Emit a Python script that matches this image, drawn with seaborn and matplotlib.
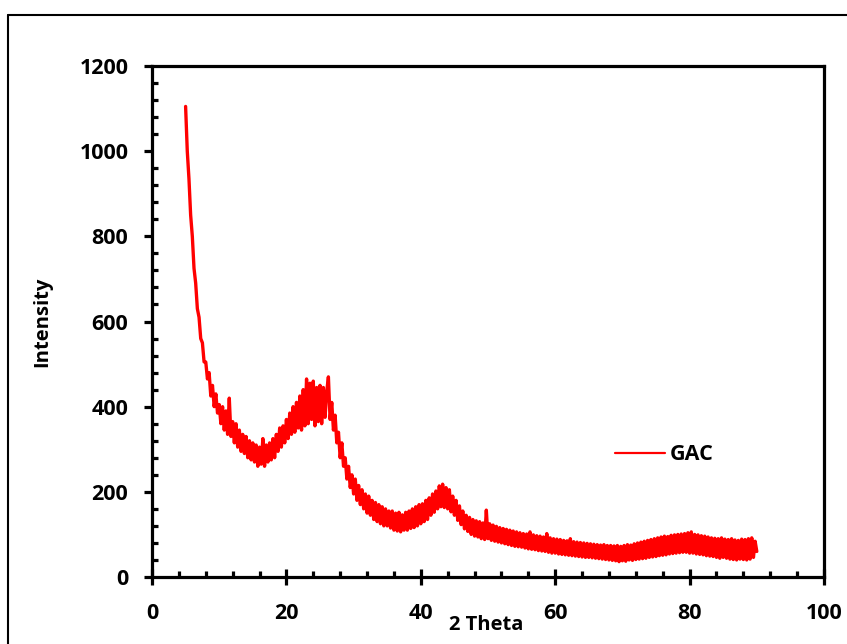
import numpy as np
import pandas as pd
import matplotlib
matplotlib.use("Agg")
import matplotlib.pyplot as plt
from matplotlib.lines import Line2D
from matplotlib.ticker import MultipleLocator
import seaborn as sns

# ---- data ----
two_theta_start = 5.0
two_theta_step = 0.25
intensity = [
    # 5.00 - 9.75
    1105, 1000, 935, 850, 800, 725, 690, 630, 610, 560, 550, 505, 505, 465, 480, 425, 450, 400, 430, 385,
    # 10.00 - 14.75
    405, 360, 400, 345, 390, 335, 420, 330, 365, 315, 360, 305, 345, 295, 335, 290, 330, 280, 320, 275,
    # 15.00 - 19.75
    315, 270, 310, 260, 305, 265, 325, 260, 310, 270, 315, 275, 325, 280, 335, 295, 350, 305, 355, 315,
    # 20.00 - 24.75
    370, 325, 385, 335, 400, 340, 410, 350, 425, 345, 440, 355, 465, 360, 455, 370, 460, 355, 445, 365,
    # 25.00 - 29.75
    450, 360, 445, 375, 435, 470, 370, 410, 345, 380, 315, 340, 280, 315, 260, 280, 230, 260, 210, 240,
    # 30.00 - 34.75
    195, 230, 180, 215, 170, 205, 160, 195, 150, 190, 145, 180, 135, 175, 130, 170, 125, 165, 120, 160,
    # 35.00 - 39.75
    120, 155, 115, 155, 110, 150, 108, 152, 106, 146, 110, 152, 110, 155, 114, 160, 116, 165, 120, 170,
    # 40.00 - 44.75
    125, 172, 130, 180, 135, 186, 145, 195, 152, 202, 160, 214, 165, 218, 163, 210, 160, 205, 153, 190,
    # 45.00 - 49.75
    145, 180, 133, 167, 123, 155, 113, 145, 107, 140, 100, 135, 96, 132, 94, 130, 90, 127, 88, 157,
    # 50.00 - 54.75
    90, 125, 86, 122, 84, 119, 82, 116, 80, 114, 78, 112, 76, 110, 74, 108, 72, 106, 71, 104,
    # 55.00 - 59.75
    70, 102, 68, 101, 66, 106, 65, 99, 64, 97, 62, 96, 61, 94, 60, 102, 58, 92, 56, 90,
    # 60.00 - 64.75
    56, 89, 54, 88, 53, 86, 52, 85, 51, 90, 50, 83, 49, 82, 48, 81, 47, 80, 46, 79,
    # 65.00 - 69.75
    46, 78, 45, 77, 44, 76, 43, 75, 42, 76, 41, 74, 40, 74, 39, 73, 38, 74, 36, 72,
    # 70.00 - 74.75
    38, 74, 37, 76, 40, 75, 39, 78, 41, 80, 42, 82, 43, 84, 44, 86, 46, 88, 47, 90,
    # 75.00 - 79.75
    48, 92, 50, 94, 51, 96, 52, 95, 54, 98, 55, 99, 56, 100, 57, 101, 58, 102, 58, 104,
    # 80.00 - 84.75
    56, 106, 56, 100, 54, 99, 53, 97, 52, 96, 50, 94, 49, 92, 48, 91, 46, 90, 44, 92,
    # 85.00 - 90.00
    46, 89, 44, 88, 42, 90, 41, 87, 40, 86, 42, 89, 41, 88, 40, 90, 42, 92, 46, 84, 60,
]
series_name = "GAC"
x_ticks = [0, 20, 40, 60, 80, 100]
y_ticks = [0, 200, 400, 600, 800, 1000, 1200]

two_theta = two_theta_start + two_theta_step * np.arange(len(intensity))
df = pd.DataFrame({"2 Theta": two_theta, "Intensity": intensity})

# ---- styling ----
sns.set_style("ticks")
plt.rcParams["font.family"] = ["Open Sans", "DejaVu Sans"]
plt.rcParams["font.weight"] = "bold"
plt.rcParams["text.color"] = "black"
plt.rcParams["xtick.color"] = "black"
plt.rcParams["ytick.color"] = "black"
plt.rcParams["axes.labelcolor"] = "black"
FS = 15.5
FS_LAB = 14.5

fig = plt.figure(figsize=(8.47, 6.44), dpi=100)
ax = fig.add_axes([152 / 847, 1 - 577 / 644, 672 / 847, 511 / 644])

sns.lineplot(data=df, x="2 Theta", y="Intensity", color="#ff0000",
             linewidth=2.4, label=series_name, ax=ax, sort=False)

ax.set_xlim(0, 100)
ax.set_ylim(0, 1200)
ax.set_xticks(x_ticks)
ax.set_yticks(y_ticks)
ax.xaxis.set_minor_locator(MultipleLocator(4))
ax.yaxis.set_minor_locator(MultipleLocator(40))

for s in ax.spines.values():
    s.set_linewidth(2.3)
    s.set_color("black")
    s.set_visible(True)

ax.tick_params(axis="x", which="major", direction="inout", length=11, width=2.3,
               pad=13, labelsize=FS, bottom=True, top=False, colors="black")
ax.tick_params(axis="x", which="minor", direction="in", length=4, width=2.3,
               bottom=True, top=False, colors="black")
ax.tick_params(axis="y", which="major", direction="out", length=6, width=2.3,
               pad=11, labelsize=FS, left=True, right=False, colors="black")
ax.tick_params(axis="y", which="minor", direction="in", length=4, width=2.3,
               left=True, right=False, colors="black")
for lab in ax.get_xticklabels() + ax.get_yticklabels():
    lab.set_fontweight("bold")

ax.set_xlabel("2 Theta", fontsize=FS_LAB, fontweight="bold", color="black")
ax.set_ylabel("Intensity", fontsize=FS_LAB, fontweight="bold", color="black")
ax.xaxis.set_label_coords(0.497, -0.074)
ax.yaxis.set_label_coords(-0.148, 0.5)

leg = ax.legend(loc="center left", bbox_to_anchor=(0.689, 0.239), frameon=False,
                fontsize=FS, handlelength=2.3, handletextpad=0.25,
                borderpad=0, borderaxespad=0)
for t in leg.get_texts():
    t.set_fontweight("bold")
    t.set_color("black")
for h in leg.get_lines():
    h.set_linewidth(1.6)

# outer frame (top and left edges visible)
fx0 = 8 / 847
fy0 = 1 - 15 / 644
fig.add_artist(Line2D([fx0, 1.0], [fy0, fy0], transform=fig.transFigure,
                      color="black", linewidth=1.5))
fig.add_artist(Line2D([fx0, fx0], [0.0, fy0], transform=fig.transFigure,
                      color="black", linewidth=1.5))

fig.savefig("out.png", dpi=100, facecolor="white")
